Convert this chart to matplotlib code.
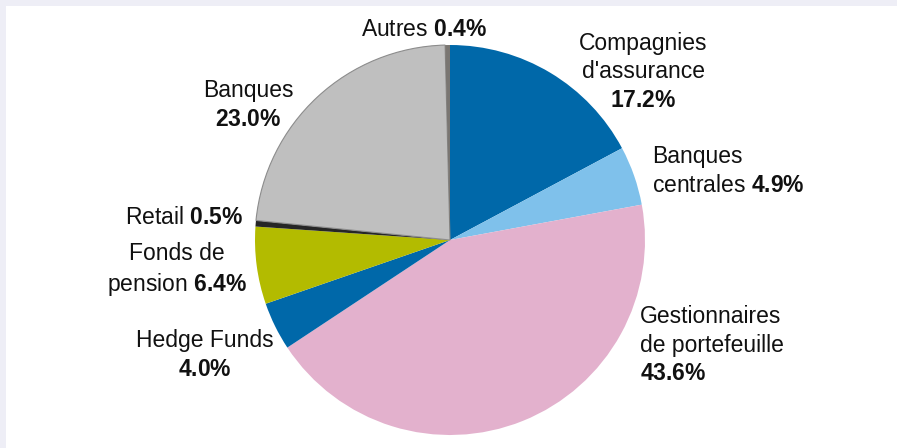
import matplotlib
matplotlib.use('Agg')
from matplotlib import pyplot
from matplotlib.patches import Rectangle

pyplot.rcParams['font.family'] = ['Liberation Sans', 'DejaVu Sans']
pyplot.rcParams['mathtext.fontset'] = 'custom'
pyplot.rcParams['mathtext.rm'] = 'Liberation Sans'
pyplot.rcParams['mathtext.bf'] = 'Liberation Sans:bold'

# slices, clockwise from the top
categories = ['Compagnies\nd\'assurance', 'Banques\ncentrales', 'Gestionnaires\nde portefeuille',
              'Hedge Funds', 'Fonds de\npension', 'Retail', 'Banques', 'Autres']
shares = [17.2, 4.9, 43.6, 4.0, 6.4, 0.5, 23.0, 0.4]
colors = ['#0068A9', '#7FC1EB', '#E3B1CD', '#0068A9', '#B3BB00', '#262626', '#BFBFBF', '#7A7672']

W, H = 897, 448
R = 195.0          # pie radius in pixels
CX, CY = 450, 240  # pie centre in pixels (from top)


def pct(v):
    return r'$\mathbf{%.1f\%%}$' % v


fig = pyplot.figure(figsize=(W / 100, H / 100), dpi=100)
fig.patch.set_facecolor('#EEEEF6')
fig.patches.append(Rectangle((6 / W, 0), 1, (H - 6) / H, transform=fig.transFigure,
                             facecolor='white', edgecolor='none', zorder=-5))

ax = fig.add_axes([0, 0, 1, 1])
ax.set_zorder(2)
ax.patch.set_alpha(0)
wedges, _ = ax.pie(shares, colors=colors, startangle=90, counterclock=False,
                   wedgeprops=dict(linewidth=0))
wedges[6].set_edgecolor('#8C8C8C')
wedges[6].set_linewidth(0.8)
ax.set_xlim(-CX / R, (W - CX) / R)
ax.set_ylim(-(H - CY) / R, CY / R)
ax.set_aspect('auto')
ax.axis('off')


def label(x, y, s, ha='center'):
    fig.text(x / W, 1 - y / H, s, ha=ha, va='center', multialignment=ha,
             fontsize=16.5, linespacing=1.32, color='#111111', zorder=5)


label(643, 72, categories[0] + '\n' + pct(shares[0]))
label(652, 171, categories[1] + ' ' + pct(shares[1]), ha='left')
label(640, 345, categories[2] + '\n' + pct(shares[2]), ha='left')
label(205, 355, categories[3] + '\n' + pct(shares[3]))
label(177, 270, categories[4] + ' ' + pct(shares[4]))
label(184, 218, categories[5] + ' ' + pct(shares[5]))
label(248, 105, categories[6] + '\n' + pct(shares[6]))
label(424, 30, categories[7] + ' ' + pct(shares[7]))

fig.savefig('out.png', dpi=100)
